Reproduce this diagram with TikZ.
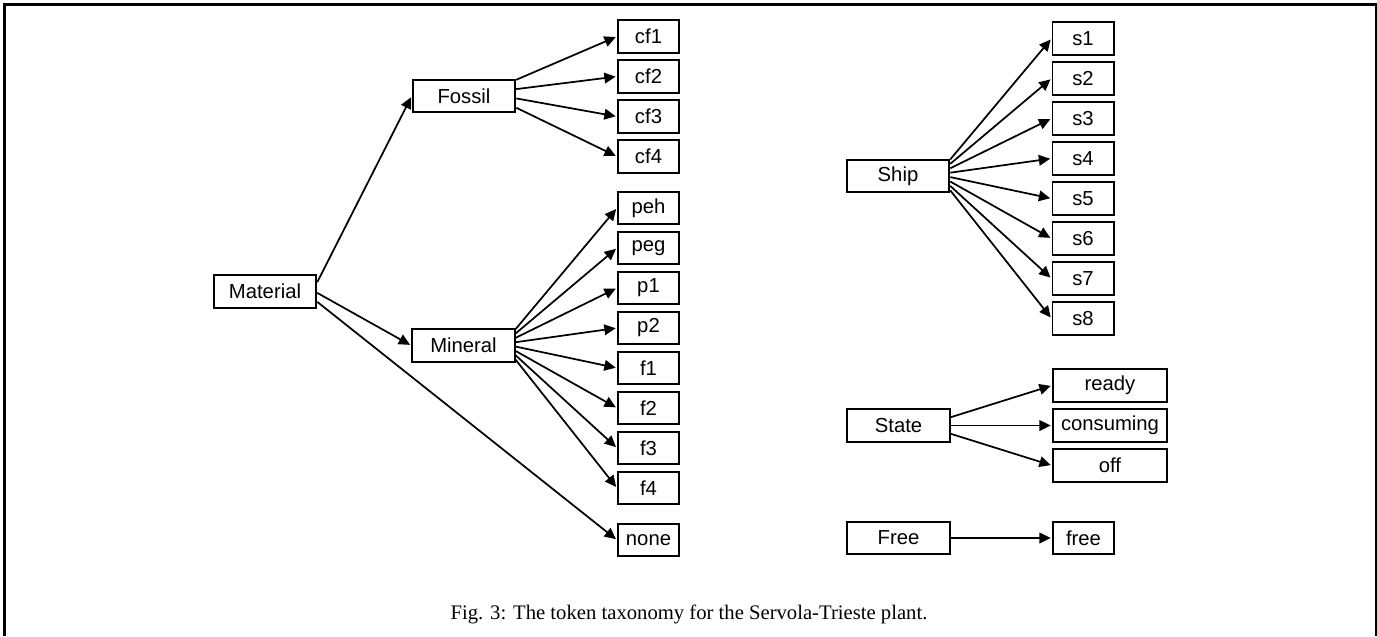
\documentclass[tikz,border=0pt]{standalone}
\usepackage{fontspec}
\setmainfont{Liberation Sans}
\newfontfamily\capfont{Liberation Serif}
\usetikzlibrary{arrows.meta,calc}
\begin{document}
\begin{tikzpicture}[x=0.75pt,y=-0.75pt,
  box/.style={draw,line width=1.4pt,inner sep=0pt,minimum height=24.5pt,font=\fontsize{15.2}{18}\selectfont},
  big/.style={box,minimum width=77pt},
  small/.style={box,minimum width=45.85pt},
  wide/.style={box,minimum width=85.6pt},
  arr/.style={line width=1.3pt,shorten >=1pt,-{Triangle[length=8.5pt,width=8pt]}},
  frame/.style={line width=2.25pt}]
\useasboundingbox (0,0) rectangle (1377,636);
\draw[frame] (4.5,636) -- (4.5,4) -- (1376,4) -- (1376,636);

% left tree
\node[big] (Material) at (265,291.5) {Material};
\node[big] (Fossil) at (464,96) {Fossil};
\node[big] (Mineral) at (463.5,345.5) {Mineral};
\foreach \t [count=\i from 0] in {cf1,cf2,cf3,cf4}
  \node[small] (\t) at (648.5,36.5+40*\i) {\t};
\foreach \t [count=\i from 0] in {peh,peg,p1,p2,f1,f2,f3,f4}
  \node[small] (\t) at (648.5,208+40*\i) {\t};
\node[small] (none) at (648.5,540) {none};

\draw[arr] ($(Material.north east)!0.23!(Material.south east)$) -- (Fossil.west);
\draw[arr] ($(Material.north east)!0.54!(Material.south east)$) -- (Mineral.west);
\draw[arr] ($(Material.north east)!0.8!(Material.south east)$) -- (none.west);
\foreach \t [count=\i from 0] in {cf1,cf2,cf3,cf4}{
  \pgfmathsetmacro\fr{0.03+0.27*\i}
  \draw[arr] ($(Fossil.north east)!\fr!(Fossil.south east)$) -- (\t.west);
}
\foreach \t [count=\i from 0] in {peh,peg,p1,p2,f1,f2,f3,f4}{
  \pgfmathsetmacro\fr{0.02+0.128*\i}
  \draw[arr] ($(Mineral.north east)!\fr!(Mineral.south east)$) -- (\t.west);
}

% right trees
\node[big] (Ship) at (898,176) {Ship};
\foreach \i in {1,...,8}
  \node[small] (s\i) at (1083,38.5+40*\i-40) {s\i};
\foreach \i in {1,...,8}{
  \pgfmathsetmacro\fr{0.02+0.128*(\i-1)}
  \draw[arr] ($(Ship.north east)!\fr!(Ship.south east)$) -- (s\i.west);
}

\node[big] (State) at (898.5,425.5) {State};
\node[wide] (ready) at (1110,385.5) {ready};
\node[wide] (consuming) at (1110,425.5) {consuming};
\node[wide] (off) at (1110,465.5) {off};
\draw[arr] ($(State.north east)!0.26!(State.south east)$) -- (ready.west);
\draw[arr] (State.east) -- (consuming.west);
\draw[arr] ($(State.north east)!0.74!(State.south east)$) -- (off.west);

\node[big] (Free) at (898.5,538) {Free};
\node[small] (free) at (1083.5,538) {free};
\draw[arr] (Free.east) -- (free.west);

\node[font=\capfont\fontsize{15.5}{18}\selectfont,anchor=base,inner sep=0pt] (cap) at (689,619.5)
  {Fig. 3: The token taxonomy for the Servola-Trieste plant.};
\end{tikzpicture}
\end{document}
